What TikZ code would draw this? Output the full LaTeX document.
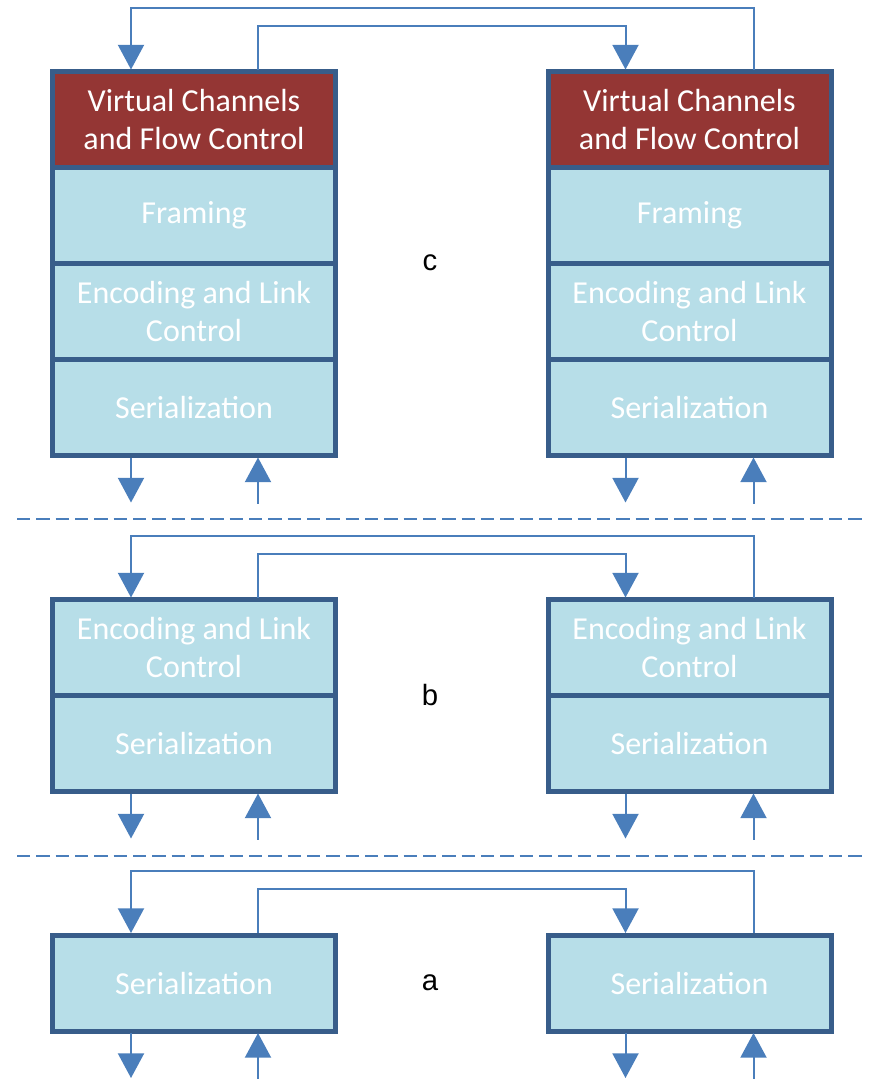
\documentclass[tikz,border=0pt]{standalone}
\usepackage{fontspec}
\setmainfont{Carlito}
\newfontfamily\tagfont{Liberation Sans}
\usetikzlibrary{positioning,calc,arrows.meta}
\definecolor{boxline}{HTML}{385D8A}
\definecolor{boxfill}{HTML}{B7DEE8}
\definecolor{vcred}{HTML}{943634}
\definecolor{linkblue}{HTML}{4A7EBB}

\begin{document}
\begin{tikzpicture}[x=0.75pt,y=-0.75pt]
				\tikzstyle{every node}=[outer sep=0pt]
				\tikzstyle{layer}=[draw=boxline, line width=3.75pt, fill=boxfill, 
				text=white, align=center, minimum width=212.25pt, minimum height=72pt, 
				font=\fontsize{24}{29}\selectfont]
				\tikzstyle{vclayer}=[layer, fill=vcred]
				\tikzstyle{link}=[draw=linkblue, line width=1.5pt, -{Triangle[width=19.5pt,length=18.5pt]}]
				\tikzstyle{sep}=[draw=linkblue, line width=1.5pt, dash pattern=on 10pt off 4.5pt]
				\tikzstyle{tag}=[font=\tagfont\fontsize{22}{26}\selectfont]
				\useasboundingbox (0,0) rectangle (871,1079);
				% c: full stack
				\node[vclayer] (cVcL) at (194,119.5) {Virtual Channels\\and Flow Control};
				\node[layer, below=0pt of cVcL] (cFrL) {Framing};
				\node[layer, below=0pt of cFrL] (cEnL) {Encoding and Link\\Control};
				\node[layer, below=0pt of cEnL] (cSeL) {Serialization};
				\node[vclayer] (cVcR) at (689.5,119.5) {Virtual Channels\\and Flow Control};
				\node[layer, below=0pt of cVcR] (cFrR) {Framing};
				\node[layer, below=0pt of cFrR] (cEnR) {Encoding and Link\\Control};
				\node[layer, below=0pt of cEnR] (cSeR) {Serialization};
				\node[tag] (cTag) at (430,263) {c};
				% b: link layer
				\node[layer] (bEnL) at (194,647.5) {Encoding and Link\\Control};
				\node[layer, below=0pt of bEnL] (bSeL) {Serialization};
				\node[layer] (bEnR) at (689.5,647.5) {Encoding and Link\\Control};
				\node[layer, below=0pt of bEnR] (bSeR) {Serialization};
				\node[tag] (bTag) at (430,695) {b};
				% a: serializer only
				\node[layer] (aSeL) at (194,983) {Serialization};
				\node[layer] (aSeR) at (689.5,983) {Serialization};
				\node[tag] (aTag) at (430,983) {a};
				% loopbacks over the top
				\foreach \top/\bot in {cVc/cSe, bEn/bSe, aSe/aSe} {
					\draw[link] ($(\top L.north west)+(205.5,-2)$) -- ++(0,-44) -| ($(\top R.north west)+(77.5,-2)$);
					\draw[link] ($(\top R.north west)+(205.5,-2)$) -- ++(0,-62) -| ($(\top L.north west)+(78.5,-2)$);
					\draw[link] ($(\bot L.south west)+(78.5,2)$) -- ++(0,45);
					\draw[link] ($(\bot L.south west)+(205.5,48)$) -- ($(\bot L.south west)+(205.5,2)$);
					\draw[link] ($(\bot R.south west)+(77.5,2)$) -- ++(0,45);
					\draw[link] ($(\bot R.south west)+(205.5,48)$) -- ($(\bot R.south west)+(205.5,2)$);
				}
				% section separators
				\draw[sep] (17,519) -- (866,519);
				\draw[sep] (17,856) -- (866,856);
\end{tikzpicture}
\end{document}
